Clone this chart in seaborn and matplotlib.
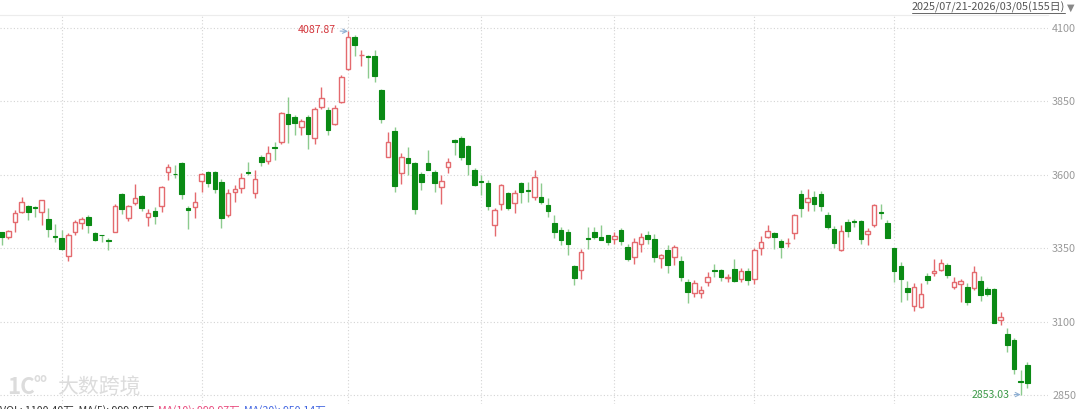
import numpy as np
import pandas as pd
import matplotlib
matplotlib.use("Agg")
import matplotlib.pyplot as plt
from matplotlib.lines import Line2D
import seaborn as sns

# ==============================
# DATA (daily OHLC, 155 sessions)
# ==============================
OPEN = [3405, 3390, 3440, 3475, 3493, 3490, 3474, 3451, 3392, 3384,
        3323, 3407, 3435, 3456, 3404, 3396, 3380, 3407, 3535, 3454,
        3505, 3529, 3458, 3478, 3493, 3610, 3604, 3639, 3488, 3491,
        3580, 3610, 3610, 3577, 3464, 3542, 3556, 3610, 3537, 3662,
        3646, 3696, 3713, 3807, 3796, 3762, 3798, 3726, 3831, 3822,
        3772, 3847, 3960, 4068, 4006, 4004, 4005, 3890, 3660, 3750,
        3607, 3658, 3639, 3603, 3639, 3609, 3558, 3626, 3720, 3726,
        3697, 3615, 3578, 3573, 3430, 3501, 3537, 3505, 3571, 3548,
        3524, 3524, 3496, 3437, 3411, 3407, 3289, 3278, 3385, 3405,
        3390, 3394, 3382, 3414, 3356, 3322, 3365, 3394, 3382, 3319,
        3344, 3320, 3306, 3235, 3199, 3199, 3237, 3275, 3277, 3249,
        3280, 3245, 3274, 3247, 3351, 3390, 3403, 3374, 3367, 3401,
        3535, 3507, 3524, 3535, 3462, 3416, 3344, 3441, 3443, 3442,
        3399, 3430, 3474, 3438, 3350, 3290, 3217, 3155, 3150, 3257,
        3265, 3278, 3295, 3220, 3228, 3220, 3214, 3239, 3213, 3211,
        3105, 3058, 3039, 2898, 2954]
HIGH = [3407, 3413, 3479, 3526, 3499, 3495, 3515, 3488, 3433, 3413,
        3401, 3445, 3458, 3464, 3407, 3397, 3386, 3500, 3540, 3497,
        3569, 3532, 3484, 3491, 3563, 3637, 3632, 3643, 3495, 3543,
        3605, 3613, 3612, 3587, 3552, 3564, 3605, 3644, 3615, 3666,
        3697, 3711, 3813, 3864, 3804, 3790, 3802, 3830, 3898, 3830,
        3836, 3938, 4087.87, 4074, 4023, 4008, 4025, 3893, 3747, 3762,
        3673, 3694, 3643, 3610, 3683, 3615, 3598, 3656, 3722, 3732,
        3700, 3625, 3598, 3581, 3488, 3569, 3543, 3547, 3575, 3575,
        3618, 3573, 3520, 3462, 3422, 3416, 3295, 3348, 3424, 3424,
        3430, 3396, 3405, 3420, 3365, 3387, 3403, 3408, 3399, 3330,
        3361, 3361, 3323, 3245, 3244, 3223, 3271, 3296, 3281, 3264,
        3313, 3283, 3283, 3350, 3391, 3431, 3405, 3382, 3387, 3467,
        3550, 3552, 3545, 3545, 3473, 3427, 3429, 3450, 3450, 3447,
        3418, 3500, 3502, 3445, 3352, 3305, 3239, 3231, 3231, 3265,
        3313, 3313, 3302, 3252, 3245, 3231, 3290, 3255, 3218, 3216,
        3135, 3078, 3044, 2937, 2965]
LOW = [3360, 3383, 3405, 3472, 3448, 3458, 3431, 3388, 3373, 3343,
       3306, 3397, 3415, 3401, 3375, 3371, 3345, 3405, 3467, 3442,
       3498, 3476, 3425, 3433, 3475, 3583, 3590, 3518, 3416, 3454,
       3541, 3560, 3540, 3420, 3456, 3507, 3537, 3598, 3520, 3630,
       3637, 3651, 3705, 3709, 3736, 3734, 3688, 3705, 3824, 3736,
       3770, 3845, 3958, 4003, 3969, 3928, 3917, 3778, 3660, 3543,
       3568, 3600, 3467, 3550, 3615, 3541, 3501, 3605, 3668, 3650,
       3600, 3563, 3530, 3479, 3391, 3479, 3479, 3469, 3505, 3507,
       3513, 3501, 3456, 3386, 3363, 3329, 3227, 3246, 3348, 3381,
       3377, 3360, 3365, 3360, 3306, 3296, 3337, 3365, 3303, 3284,
       3266, 3293, 3238, 3164, 3186, 3181, 3222, 3252, 3240, 3237,
       3237, 3235, 3226, 3230, 3326, 3386, 3348, 3317, 3354, 3382,
       3456, 3476, 3476, 3476, 3416, 3353, 3340, 3388, 3423, 3365,
       3362, 3423, 3450, 3384, 3237, 3169, 3175, 3137, 3148, 3228,
       3257, 3273, 3251, 3212, 3169, 3159, 3209, 3170, 3187, 3095,
       3090, 2999, 2923, 2853.03, 2874]
CLOSE = [3390, 3408, 3471, 3507, 3474, 3488, 3513, 3415, 3389, 3347,
         3396, 3439, 3450, 3429, 3380, 3394, 3376, 3495, 3483, 3495,
         3522, 3486, 3471, 3459, 3560, 3626, 3602, 3534, 3482, 3507,
         3603, 3571, 3552, 3452, 3539, 3552, 3590, 3608, 3586, 3643,
         3675, 3690, 3809, 3773, 3775, 3782, 3738, 3824, 3862, 3751,
         3829, 3934, 4070, 4042, 4009, 4002, 3935, 3790, 3713, 3561,
         3662, 3641, 3484, 3575, 3618, 3571, 3578, 3643, 3711, 3662,
         3637, 3566, 3576, 3493, 3479, 3564, 3486, 3537, 3541, 3546,
         3594, 3509, 3476, 3405, 3380, 3365, 3248, 3339, 3383, 3390,
         3380, 3373, 3391, 3374, 3314, 3373, 3390, 3382, 3320, 3327,
         3293, 3354, 3252, 3201, 3232, 3209, 3254, 3273, 3252, 3252,
         3240, 3273, 3243, 3344, 3373, 3408, 3388, 3354, 3370, 3464,
         3488, 3522, 3501, 3493, 3424, 3369, 3410, 3410, 3441, 3382,
         3408, 3496, 3472, 3387, 3274, 3246, 3203, 3220, 3194, 3243,
         3273, 3301, 3261, 3237, 3239, 3167, 3269, 3191, 3194, 3097,
         3116, 3022, 2939, 2896, 2894]

Y_TICKS = [2850, 3100, 3350, 3600, 3850, 4100]
MONTH_START = [9, 30, 52, 72, 92, 113, 134]   # first session of each month
DATE_RANGE = "2025/07/21-2026/03/05(155日)"
VOL_LEGEND = [("VOL: 1100.40万  MA(5): 999.86万", "#333333"),
              ("MA(10): 999.97万", "#e8457a"),
              ("MA(20): 950.14万", "#3f63e0")]

# ==============================
# STYLE
# ==============================
RED = "#e46a6e"
GREEN = "#0a8a14"
GREEN_WICK = "#8ccb8e"
GRID = "#d4d4d4"

sns.set_theme(style="white")
plt.rcParams['font.family'] = ['Noto Sans CJK SC', 'DejaVu Sans']

df = pd.DataFrame({"open": OPEN, "high": HIGH, "low": LOW, "close": CLOSE})
df["idx"] = np.arange(len(df))
df["up"] = df["close"] >= df["open"]
df["bottom"] = df[["open", "close"]].min(axis=1)
df["height"] = (df["close"] - df["open"]).abs().clip(lower=1.5)

W, H = 1080, 409
fig = plt.figure(figsize=(W / 100, H / 100), dpi=100)
ax = fig.add_axes([0, 5 / H, 1048 / W, 389 / H])

up = df[df["up"]]
dn = df[~df["up"]]

# wicks
ax.vlines(up["idx"], up["low"], up["high"], color=RED, lw=1, zorder=2)
ax.vlines(dn["idx"], dn["low"], dn["high"], color=GREEN_WICK, lw=1, zorder=2)

# bodies
ax.bar(up["idx"], up["height"], bottom=up["bottom"], width=0.68,
       facecolor="white", edgecolor=RED, linewidth=1, zorder=3)
ax.bar(dn["idx"], dn["height"], bottom=dn["bottom"], width=0.68,
       facecolor=GREEN, edgecolor=GREEN, linewidth=0.8, zorder=3)

# axes / grid
ax.set_xlim(-0.255, 157.1)
ax.set_ylim(2821, 4143.7)
ax.set_yticks(Y_TICKS)
ax.set_xticks(MONTH_START)
ax.set_xticklabels([])
ax.yaxis.tick_right()
ax.tick_params(axis="y", length=0, pad=3, labelsize=7.8, labelcolor="#9a9a9a")
ax.tick_params(axis="x", length=0)
ax.grid(True, ls=(0, (1, 2)), color=GRID, lw=0.8)
ax.set_axisbelow(True)
sns.despine(ax=ax, left=True, bottom=True, right=True, top=False)
ax.spines["top"].set_color("#ececec")
ax.spines["top"].set_linewidth(0.8)

# max / min markers
imax = int(df["high"].idxmax())
imin = int(df["low"].idxmin())
ax.annotate(f"{df['high'][imax]:.2f}", xy=(imax, df["high"][imax]),
            xytext=(-9, 1), textcoords="offset points", ha="right", va="center",
            fontsize=7.6, color="#d4363c",
            arrowprops=dict(arrowstyle="->", color="#8fb0d3", lw=0.8,
                            shrinkA=1, shrinkB=0))
ax.annotate(f"{df['low'][imin]:.2f}", xy=(imin, df["low"][imin]),
            xytext=(-8, 0), textcoords="offset points", ha="right", va="center",
            fontsize=7.6, color="#3c9a48",
            arrowprops=dict(arrowstyle="->", color="#8fb0d3", lw=0.8,
                            shrinkA=1, shrinkB=0))

# date range header
fig.text(912 / W, 1 - 7.5 / H, DATE_RANGE, ha="left", va="center",
         fontsize=7.8, color="#555555")
fig.add_artist(Line2D([912 / W, 1065 / W], [1 - 12.5 / H, 1 - 12.5 / H],
                      color="#666666", lw=0.7))
fig.text(1067 / W, 1 - 7.5 / H, "▼", ha="left", va="center",
         fontsize=7, color="#888888", family=['DejaVu Sans'])

# watermark
fig.text(7 / W, 1 - 388 / H, "1C", ha="left", va="center",
         fontsize=16, color="#dcdcdc", fontweight="bold")
fig.text(33 / W, 1 - 379 / H, "oo", ha="left", va="center",
         fontsize=8, color="#dcdcdc", fontweight="bold")
fig.text(57 / W, 1 - 388 / H, "大数跨境", ha="left", va="center",
         fontsize=15, color="#dcdcdc")

# volume legend (cut off by the bottom edge, as in the source)
x0 = 0
for txt, col in VOL_LEGEND:
    t = fig.text(x0 / W, 1 - 405 / H, txt, ha="left", va="top",
                 fontsize=7.6, color=col)
    fig.canvas.draw()
    bb = t.get_window_extent()
    x0 = bb.x1 + 4

fig.savefig("out.png", dpi=100)
plt.close(fig)
